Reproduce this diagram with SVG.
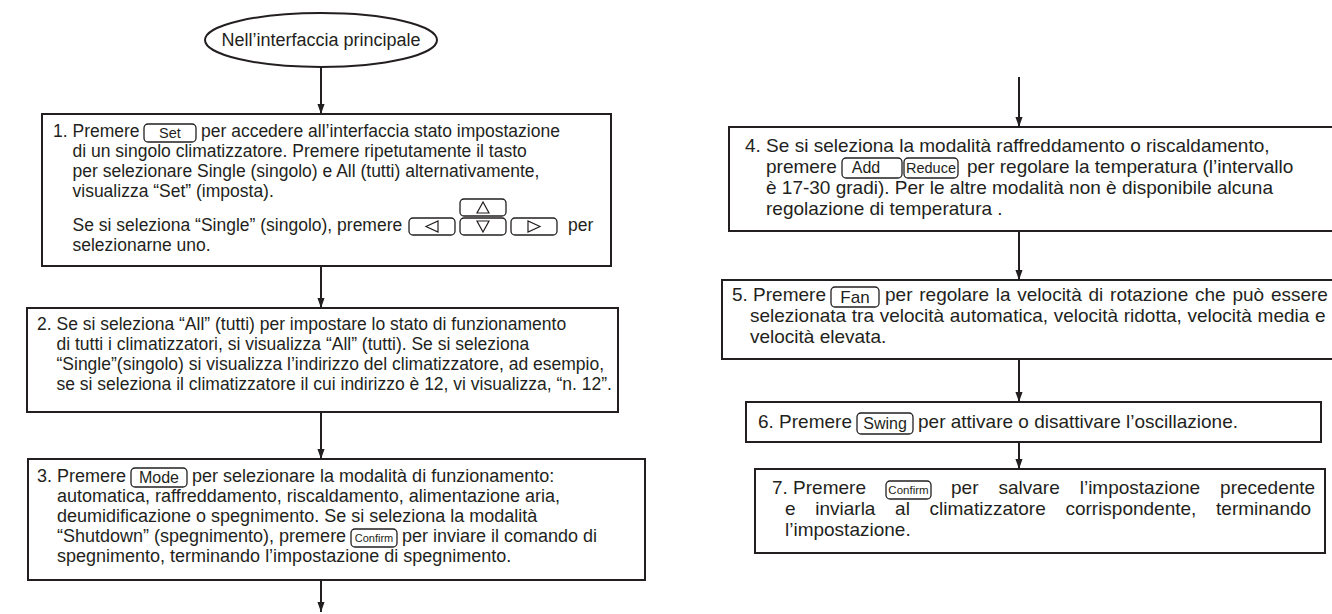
<svg xmlns="http://www.w3.org/2000/svg" width="1332" height="614" viewBox="0 0 1332 614">
<defs>
<marker id="ah" markerUnits="userSpaceOnUse" markerWidth="10" markerHeight="14" refX="14" refY="5" orient="auto" viewBox="0 0 14 10">
<path d="M0,0 L14,5 L0,10 z" fill="#231f20"/>
</marker>
<style>
.box{fill:#fff;stroke:#231f20;stroke-width:2}
.t{font-family:"Liberation Sans",Arial,sans-serif;fill:#231f20}
.l{font-size:17.5px}
.m{font-size:18px}
.r{font-size:19px}
.btn{fill:none;stroke:#231f20;stroke-width:1.3}
.bt{font-family:"Liberation Sans",Arial,sans-serif;fill:#231f20;text-anchor:middle}
.tri{fill:none;stroke:#231f20;stroke-width:1.2}
.c{stroke:#231f20;stroke-width:2;fill:none}
</style>
</defs>
<rect width="1332" height="614" fill="#fff"/>
<g id="connectors">
<line class="c" x1="321" y1="67" x2="321" y2="114" marker-end="url(#ah)"/>
<line class="c" x1="321" y1="266" x2="321" y2="308" marker-end="url(#ah)"/>
<line class="c" x1="321" y1="412" x2="321" y2="459" marker-end="url(#ah)"/>
<line class="c" x1="321" y1="580" x2="321" y2="612" marker-end="url(#ah)"/>
<line class="c" x1="1019" y1="77" x2="1019" y2="127" marker-end="url(#ah)"/>
<line class="c" x1="1019" y1="231" x2="1019" y2="280" marker-end="url(#ah)"/>
<line class="c" x1="1019" y1="359" x2="1019" y2="402" marker-end="url(#ah)"/>
<line class="c" x1="1019" y1="442" x2="1019" y2="469" marker-end="url(#ah)"/>
</g>
<g id="start">
<ellipse cx="321" cy="40" rx="116" ry="27" fill="#fff" stroke="#231f20" stroke-width="2"/>
<text class="t" x="321" y="46" font-size="18" text-anchor="middle">Nell’interfaccia principale</text>
</g>
<g id="step1">
<rect class="box" x="42" y="114" width="569" height="152"/>
<text class="t l" x="53" y="137">1. Premere</text>
<rect class="btn" x="144" y="124" width="52" height="18" rx="4"/>
<text class="bt" x="170" y="138" font-size="14.5">Set</text>
<text class="t l" x="201" y="137">per accedere all’interfaccia stato impostazione</text>
<text class="t l" x="72.5" y="157">di un singolo climatizzatore. Premere ripetutamente il tasto</text>
<text class="t l" x="72.5" y="177">per selezionare Single (singolo) e All (tutti) alternativamente,</text>
<text class="t l" x="72.5" y="197">visualizza “Set” (imposta).</text>
<text class="t l" x="72.5" y="231">Se si seleziona “Single” (singolo), premere</text>
<rect class="btn" x="460" y="199" width="46" height="17" rx="4"/>
<polygon class="tri" points="483,202 477,213 489,213"/>
<rect class="btn" x="409" y="218" width="46" height="17" rx="4"/>
<polygon class="tri" points="426,226.5 438,221 438,232"/>
<rect class="btn" x="460" y="218" width="46" height="17" rx="4"/>
<polygon class="tri" points="477,221 489,221 483,232"/>
<rect class="btn" x="511" y="218" width="46" height="17" rx="4"/>
<polygon class="tri" points="540,226.5 528,221 528,232"/>
<text class="t l" x="568" y="231">per</text>
<text class="t l" x="72.5" y="251">selezionarne uno.</text>
</g>
<g id="step2">
<rect class="box" x="27" y="308" width="591" height="104"/>
<text class="t l" x="37" y="330">2. Se si seleziona “All” (tutti) per impostare lo stato di funzionamento</text>
<text class="t l" x="56.5" y="350">di tutti i climatizzatori, si visualizza “All” (tutti). Se si seleziona</text>
<text class="t l" x="56.5" y="370">“Single”(singolo) si visualizza l’indirizzo del climatizzatore, ad esempio,</text>
<text class="t l" x="56.5" y="390">se si seleziona il climatizzatore il cui indirizzo è 12, vi visualizza, “n. 12”.</text>
</g>
<g id="step3">
<rect class="box" x="28" y="459" width="617" height="121"/>
<text class="t m" x="37" y="482">3. Premere</text>
<rect class="btn" x="131" y="468" width="56" height="19" rx="4"/>
<text class="bt" x="159" y="483" font-size="16">Mode</text>
<text class="t m" x="192" y="482">per selezionare la modalità di funzionamento:</text>
<text class="t m" x="57" y="502">automatica, raffreddamento, riscaldamento, alimentazione aria,</text>
<text class="t m" x="57" y="522">deumidificazione o spegnimento. Se si seleziona la modalità</text>
<text class="t m" x="57" y="542">“Shutdown” (spegnimento), premere</text>
<rect class="btn" x="351" y="529" width="46" height="18" rx="4"/>
<text class="bt" x="374" y="542" font-size="11">Confirm</text>
<text class="t m" x="402" y="542">per inviare il comando di</text>
<text class="t m" x="57" y="562">spegnimento, terminando l’impostazione di spegnimento.</text>
</g>
<g id="step4">
<rect class="box" x="729" y="127" width="620" height="104"/>
<text class="t r" x="745" y="152">4. Se si seleziona la modalità raffreddamento o riscaldamento,</text>
<text class="t r" x="766" y="173">premere</text>
<rect class="btn" x="842" y="158" width="60" height="20" rx="4"/>
<text class="bt" x="866" y="173" font-size="16">Add</text>
<rect class="btn" x="904" y="158" width="54" height="20" rx="4"/>
<text class="bt" x="931" y="173" font-size="14.5">Reduce</text>
<text class="t r" x="967" y="173">per regolare la temperatura (l’intervallo</text>
<text class="t r" x="766" y="194">è 17-30 gradi). Per le altre modalità non è disponibile alcuna</text>
<text class="t r" x="766" y="215">regolazione di temperatura .</text>
</g>
<g id="step5">
<rect class="box" x="722" y="280" width="630" height="79"/>
<text class="t r" x="732" y="301">5. Premere</text>
<rect class="btn" x="831" y="287" width="48" height="20" rx="4"/>
<text class="bt" x="855" y="303" font-size="17">Fan</text>
<text class="t r" x="885" y="301" word-spacing="1.5">per regolare la velocità di rotazione che può essere</text>
<text class="t r" x="750" y="322" word-spacing="0.4">selezionata tra velocità automatica, velocità ridotta, velocità media e</text>
<text class="t r" x="750" y="343">velocità elevata.</text>
</g>
<g id="step6">
<rect class="box" x="746" y="402" width="575" height="40"/>
<text class="t r" x="758" y="428">6. Premere</text>
<rect class="btn" x="857" y="413" width="56" height="21" rx="4"/>
<text class="bt" x="885" y="429" font-size="16">Swing</text>
<text class="t r" x="918" y="428">per attivare o disattivare l’oscillazione.</text>
</g>
<g id="step7">
<rect class="box" x="755" y="469" width="570" height="84"/>
<text class="t r" x="772" y="494">7. Premere</text>
<rect class="btn" x="886" y="481" width="45" height="18" rx="4"/>
<text class="bt" x="908.5" y="494" font-size="11.5">Confirm</text>
<text class="t r" x="951" y="494">per</text>
<text class="t r" x="998.5" y="494">salvare</text>
<text class="t r" x="1079.7" y="494">l’impostazione</text>
<text class="t r" x="1220.1" y="494">precedente</text>
<text class="t r" x="785" y="515" word-spacing="14.4">e inviarla al climatizzatore corrispondente, terminando</text>
<text class="t r" x="785" y="536">l’impostazione.</text>
</g>
</svg>
